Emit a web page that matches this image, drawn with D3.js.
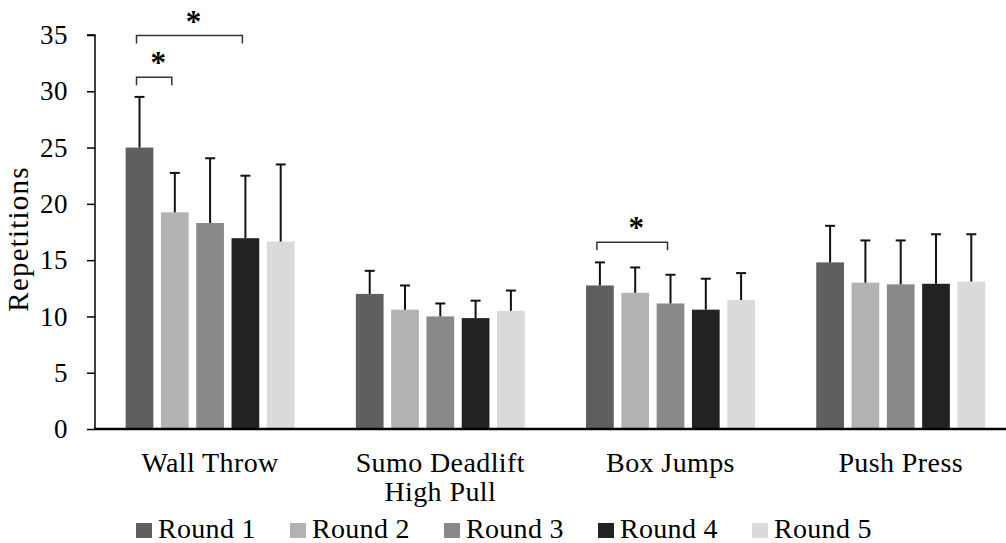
<!DOCTYPE html>
<html>
<head>
<meta charset="utf-8">
<script src="https://cdn.jsdelivr.net/npm/d3@7/dist/d3.min.js"></script>
<style>
  html, body { margin: 0; padding: 0; background: #fff; }
  svg { display: block; }
  text { font-family: "Liberation Serif", "Times New Roman", serif; fill: #000; }
</style>
</head>
<body>
<svg id="chart" width="1006" height="543"></svg>
<script>
// ---- data ----
const categories = ["Wall Throw", "Sumo Deadlift High Pull", "Box Jumps", "Push Press"];
const categoryLines = [["Wall Throw"], ["Sumo Deadlift", "High Pull"], ["Box Jumps"], ["Push Press"]];
const rounds = ["Round 1", "Round 2", "Round 3", "Round 4", "Round 5"];
const colors = ["#5f5f5f", "#b2b2b2", "#898989", "#222222", "#dadada"];
// means per round (rows) for each category (columns)
const round1 = [25.0, 12.0, 12.75, 14.8];
const round2 = [19.25, 10.6, 12.1, 13.0];
const round3 = [18.3, 10.0, 11.15, 12.85];
const round4 = [16.95, 9.85, 10.6, 12.9];
const round5 = [16.65, 10.5, 11.45, 13.1];
// upper error (mean + SD)
const upper1 = [29.5, 14.05, 14.8, 18.05];
const upper2 = [22.75, 12.75, 14.35, 16.75];
const upper3 = [24.05, 11.15, 13.7, 16.75];
const upper4 = [22.5, 11.4, 13.35, 17.3];
const upper5 = [23.5, 12.3, 13.85, 17.3];
const yTicks = [0, 5, 10, 15, 20, 25, 30, 35];
// significance brackets: category index, from round, to round, y level
const sigCategory = [0, 0, 2];
const sigFrom = [0, 0, 0];
const sigTo = [1, 3, 2];
const sigLevel = [31.25, 34.95, 16.6];

const means = [round1, round2, round3, round4, round5];
const uppers = [upper1, upper2, upper3, upper4, upper5];

// ---- layout ----
const svg = d3.select("#chart");
const plotLeft = 95, plotBottom = 429, plotTop = 35;
const x0 = d3.scaleBand().domain(categories).range([plotLeft, 1015.8])
  .paddingInner(0.2333).paddingOuter(0.2333 / 2);
const x1 = d3.scaleBand().domain(rounds).range([0, x0.bandwidth()])
  .paddingInner(0.215).paddingOuter(0.1075);
const y = d3.scaleLinear().domain([0, 35]).range([plotBottom, plotTop]);

const data = [];
categories.forEach((c, ci) => rounds.forEach((r, ri) => {
  data.push({ c, r, ri, v: means[ri][ci], u: uppers[ri][ci] });
}));

// bars
svg.append("g").selectAll("rect").data(data).join("rect")
  .attr("x", d => x0(d.c) + x1(d.r))
  .attr("y", d => y(d.v))
  .attr("width", x1.bandwidth())
  .attr("height", d => y(0) - y(d.v))
  .attr("fill", d => colors[d.ri]);

// error bars
const cap = 5;
const eb = svg.append("g").attr("stroke", "#111").attr("stroke-width", 2);
data.forEach(d => {
  const cx = x0(d.c) + x1(d.r) + x1.bandwidth() / 2;
  eb.append("line").attr("x1", cx).attr("x2", cx).attr("y1", y(d.v)).attr("y2", y(d.u));
  eb.append("line").attr("x1", cx - cap).attr("x2", cx + cap).attr("y1", y(d.u)).attr("y2", y(d.u));
});

// y axis
const yAxis = d3.axisLeft(y).tickValues(yTicks).tickSize(8).tickPadding(19);
const gy = svg.append("g").attr("transform", `translate(${plotLeft},0)`).call(yAxis);
gy.select(".domain").attr("stroke", "#000").attr("stroke-width", 1.5).attr("d", `M-8,${plotTop}H0V${plotBottom}`);
gy.selectAll(".tick line").attr("stroke", "#000").attr("stroke-width", 1.5);
gy.selectAll(".tick text").attr("font-size", 27).attr("font-family", "Liberation Serif")
  .attr("fill", "#000").attr("letter-spacing", 0.5);

// x axis line
svg.append("line").attr("x1", plotLeft - 1).attr("x2", 1006).attr("y1", plotBottom).attr("y2", plotBottom)
  .attr("stroke", "#000").attr("stroke-width", 2.5);

// category labels
categories.forEach((c, ci) => {
  const cx = x0(c) + x0.bandwidth() / 2;
  const t = svg.append("text").attr("text-anchor", "middle").attr("font-size", 28)
    .attr("letter-spacing", 0.4).attr("x", cx).attr("y", 472);
  categoryLines[ci].forEach((ln, li) => {
    t.append("tspan").attr("x", cx).attr("dy", li === 0 ? 0 : 29).text(ln);
  });
});

// y label
svg.append("text").attr("transform", "translate(28,239) rotate(-90)")
  .attr("text-anchor", "middle").attr("font-size", 29).attr("letter-spacing", 1.2).text("Repetitions");

// significance brackets
const sg = svg.append("g");
sigCategory.forEach((ci, i) => {
  const c = categories[ci];
  const xa = x0(c) + x1(rounds[sigFrom[i]]) + x1.bandwidth() / 2 - 3;
  const xb = x0(c) + x1(rounds[sigTo[i]]) + x1.bandwidth() / 2 - 3;
  const yy = y(sigLevel[i]);
  sg.append("path").attr("d", `M${xa},${yy + 8}V${yy}H${xb}V${yy + 8}`)
    .attr("fill", "none").attr("stroke", "#333").attr("stroke-width", 1.5);
  sg.append("text").attr("x", (xa + xb) / 2 + 4).attr("y", yy - 4).attr("text-anchor", "middle")
    .attr("font-size", 31).attr("font-weight", "bold").text("*");
});

// legend
const lg = svg.append("g");
rounds.forEach((r, i) => {
  const lx = 136 + i * 154;
  lg.append("rect").attr("x", lx).attr("y", 523).attr("width", 16).attr("height", 15).attr("fill", colors[i]);
  lg.append("text").attr("x", lx + 22).attr("y", 538).attr("font-size", 28)
    .attr("letter-spacing", 0.3).text(r);
});
</script>
</body>
</html>
